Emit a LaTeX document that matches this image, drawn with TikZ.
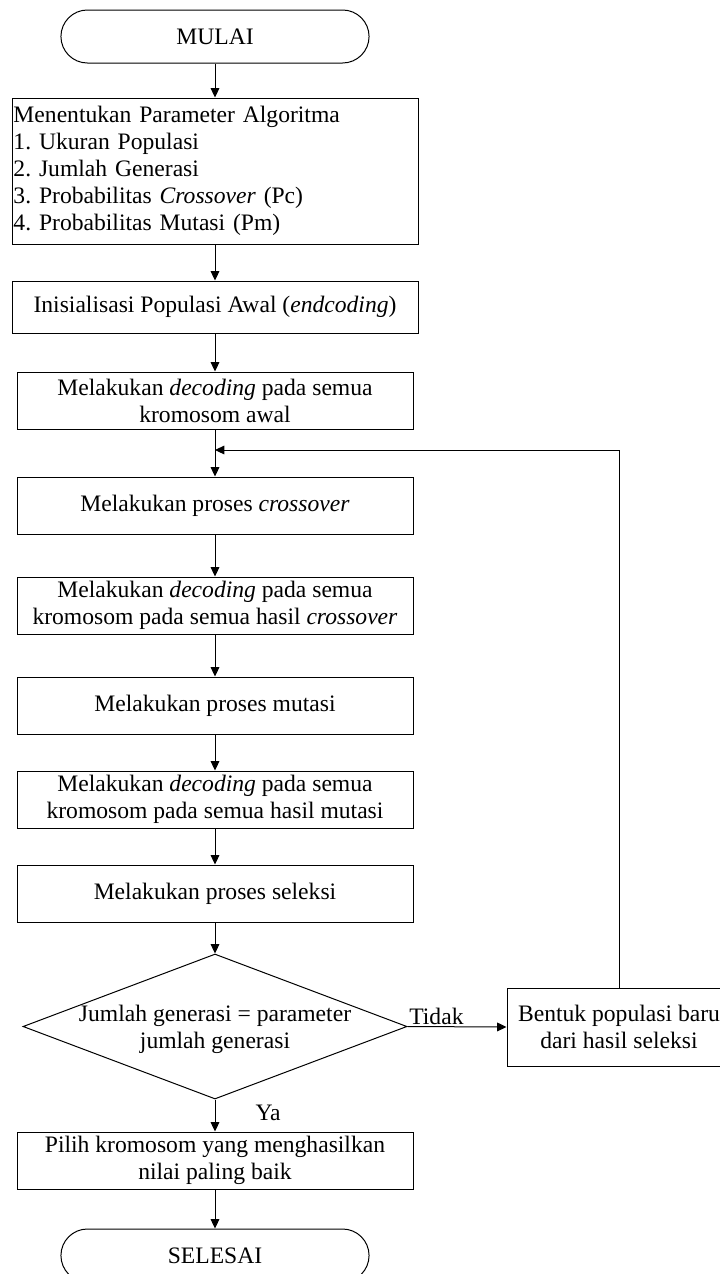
\documentclass[tikz,border=0pt]{standalone}
\usepackage{fontspec}
\setmainfont{Liberation Serif}
\usetikzlibrary{shapes,arrows.meta}
\frenchspacing

\begin{document}
\begin{tikzpicture}[x=0.75pt,y=-0.75pt,line width=0.75pt,
     font=\fontsize{17.7}{20.25}\selectfont,
     box/.style={draw,rectangle,minimum width=396*0.75pt,minimum height=57*0.75pt,align=center,inner sep=1pt},
     term/.style={draw,rounded rectangle,minimum width=317*0.75pt,minimum height=53*0.75pt},
     cond/.style={draw,diamond,minimum width=384*0.75pt,minimum height=145*0.75pt,inner sep=0pt},
     arr/.style={-{Triangle[length=7pt,width=6.5pt]}}
     ]
\useasboundingbox (0,0) rectangle (720,1274);

%Horizontal centre of the main column
\def \cx{215}

%Start and parameters
\node[term] (mulai) at (\cx,36.5) {MULAI};
\node[box,minimum width=406*0.75pt,minimum height=146*0.75pt,text width=403*0.75pt,align=left] (param) at (\cx,171)
   {Menentukan Parameter Algoritma\\1. Ukuran Populasi\\2. Jumlah Generasi\\3. Probabilitas \textit{Crossover} (Pc)\\4. Probabilitas Mutasi (Pm)};
\node[box,minimum width=406*0.75pt,minimum height=52*0.75pt] (init) at (\cx,307) {Inisialisasi Populasi Awal (\textit{endcoding})};

%Main loop of the algorithm
\node[box] (dec1) at (\cx,400.5) {Melakukan \textit{decoding} pada semua\\kromosom awal};
\node[box] (cross) at (\cx,505.5) {Melakukan proses \textit{crossover}};
\node[box] (dec2) at (\cx,605.5) {Melakukan \textit{decoding} pada semua\\kromosom pada semua hasil \textit{crossover}};
\node[box] (mut) at (\cx,705.5) {Melakukan proses mutasi};
\node[box] (dec3) at (\cx,799.5) {Melakukan \textit{decoding} pada semua\\kromosom pada semua hasil mutasi};
\node[box] (sel) at (\cx,893.5) {Melakukan proses seleksi};

%Decision
\node[cond] (cek) at (\cx,1026.5) {};
\node[align=center,inner sep=0pt] (cektext) at (\cx,1029) {Jumlah generasi = parameter\\jumlah generasi};
\node[box,minimum width=224*0.75pt,minimum height=78*0.75pt] (baru) at (619,1027) {Bentuk populasi baru\\dari hasil seleksi};

%End
\node[box] (pilih) at (\cx,1160.5) {Pilih kromosom yang menghasilkan\\nilai paling baik};
\node[term] (selesai) at (\cx,1255.5) {SELESAI};

\coordinate (balik) at (\cx,450);

\foreach \a/\b in {mulai/param,param/init,init/dec1,dec1/cross,cross/dec2,dec2/mut,mut/dec3,dec3/sel,sel/cek,pilih/selesai}
   \draw[arr] (\a.south) -- (\b.north);

\draw[arr] (cek.south) -- node[pos=0.42,anchor=west,xshift=30pt,inner sep=0pt] (ya) {Ya} (pilih.north);
\draw[arr] (cek.east) -- node[pos=0,anchor=south west,inner sep=1pt] (tidak) {Tidak} (baru.west);
\draw[arr] (baru.north) |- (balik);
\end{tikzpicture}
\end{document}
